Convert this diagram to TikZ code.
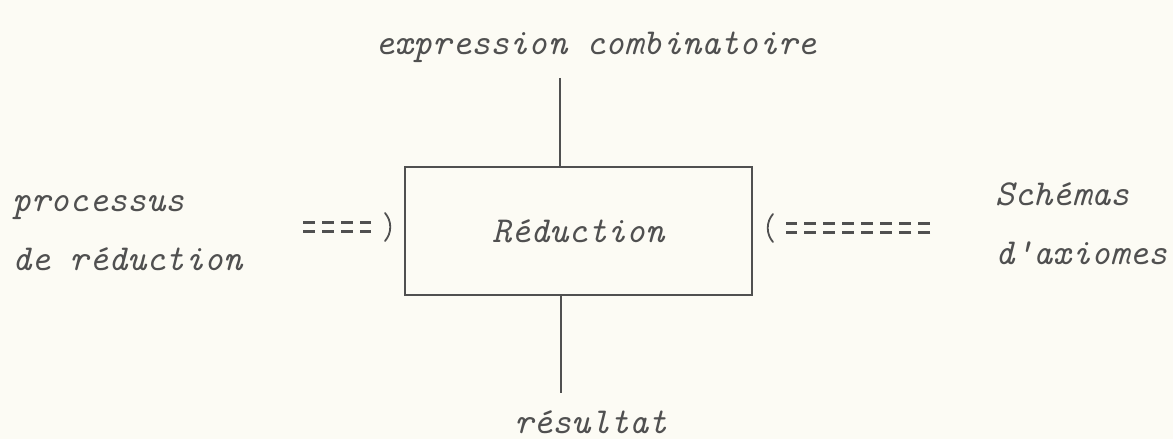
\documentclass[tikz,border=0pt]{standalone}
\definecolor{encre}{RGB}{80,80,80}
\definecolor{papier}{RGB}{252,251,244}
\newcommand\ecriture{\fontsize{26}{42}\selectfont\ttfamily\itshape}
\begin{document}
\begin{tikzpicture}[x=0.025cm,y=-0.025cm,
	texte/.style={inner sep=0pt,text=encre,font=\ecriture},
	bloc/.style={draw=encre,line width=0.05cm,minimum width=8.675cm,minimum height=3.2cm,inner sep=0pt,text=encre,font=\ecriture},
	fil/.style={draw=encre,line width=0.04cm},
	egal/.style={draw=encre,line width=0.07cm,double=papier,double distance=0.15cm,
		dash pattern=on 0.3cm off 0.175cm,shorten >=0.825cm},
	crochet/.style={draw=encre,line width=0.045cm,line cap=round}]
		% fond
		\fill[papier] (0,0) rectangle (1173,439);
		\useasboundingbox (0,0) rectangle (1173,439);
		% bloc central
		\node[bloc] (red) at (578.5,231) {Réduction};
		\node[texte,anchor=base] (expr) at (596,55) {expression combinatoire};
		\node[texte,anchor=base] (res) at (591,433) {résultat};
		\node[texte,anchor=base west,align=left] (proc) at (12,271) {processus\\de réduction};
		\node[texte,anchor=base west,align=left] (schem) at (995,265) {Schémas\\d'axiomes};
		% entree et sortie
		\coordinate (haut) at (560,78);
		\coordinate (bas) at (561,393);
		\draw[fil] (haut) -- (haut |- red.north);
		\draw[fil] (red.south -| bas) -- (bas);
		% fleches doubles
		\coordinate (gq) at (303,227);
		\coordinate (dq) at (930,228);
		\draw[egal] (gq) -- (gq -| red.west);
		\draw[egal] (dq) -- (dq -| red.east);
		% pointes en parenthese
		\draw[crochet] (385,213) .. controls (392,221) and (392,233) .. (385,241);
		\draw[crochet] (773,214) .. controls (766,222) and (766,234) .. (773,242);
\end{tikzpicture}
\end{document}
